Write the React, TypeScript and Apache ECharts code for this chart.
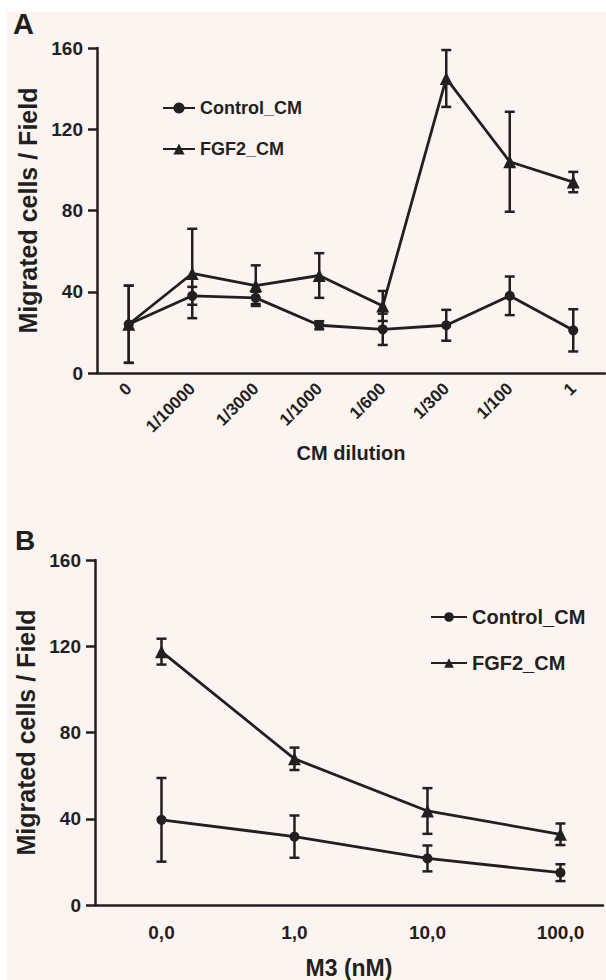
import React, { useEffect, useRef } from "react";
import * as echarts from "echarts";

// ---- Data ----
const categoriesA = ["0", "1/10000", "1/3000", "1/1000", "1/600", "1/300", "1/100", "1"];
const controlA = [24, 38, 37, 23.5, 21.5, 23.5, 38, 21];
const controlAErr = [19, 4.4, 3, 2, 7.7, 7.6, 9.5, 10.4];
const fgf2A = [24, 49, 43, 48, 33, 145, 104, 94];
const fgf2AErr = [19, 22, 10, 11, 7.4, 14, 24.6, 5];

const categoriesB = ["0,0", "1,0", "10,0", "100,0"];
const controlB = [39.5, 31.7, 21.6, 15];
const controlBErr = [19.4, 9.8, 6, 3.9];
const fgf2B = [117.5, 67.8, 43.6, 32.8];
const fgf2BErr = [6, 5.2, 10.6, 5];

const yTicks = [0, 40, 80, 120, 160];
const seriesNames = ["Control_CM", "FGF2_CM"];
const panelLetters = ["A", "B"];
const axisTitles = { yA: "Migrated cells / Field", xA: "CM dilution", yB: "Migrated cells / Field", xB: "M3 (nM)" };

const INK = "#231f20";
const BG = "#fcf4f1";
const SANS = "'Liberation Sans', Arial, sans-serif";

function errSeries(name: string, vals: number[], errs: number[], xi: number, yi: number) {
  return {
    type: "custom",
    name,
    xAxisIndex: xi,
    yAxisIndex: yi,
    silent: true,
    z: 3,
    encode: { x: 0, y: 1 },
    data: vals.map((v, i) => [i, v, errs[i]]),
    renderItem: (params: any, api: any) => {
      const x = api.value(0);
      const v = api.value(1);
      const e = api.value(2);
      const p1 = api.coord([x, v + e]);
      const p2 = api.coord([x, v - e]);
      const hw = 5;
      const style = { stroke: INK, lineWidth: 2.5, fill: "none" };
      return {
        type: "group",
        children: [
          { type: "line", shape: { x1: p1[0], y1: p1[1], x2: p2[0], y2: p2[1] }, style },
          { type: "line", shape: { x1: p1[0] - hw, y1: p1[1], x2: p1[0] + hw, y2: p1[1] }, style },
          { type: "line", shape: { x1: p2[0] - hw, y1: p2[1], x2: p2[0] + hw, y2: p2[1] }, style },
        ],
      };
    },
  };
}

function lineSeries(name: string, data: any[], symbol: string, size: number, xi: number, yi: number) {
  return {
    type: "line",
    name,
    xAxisIndex: xi,
    yAxisIndex: yi,
    data,
    symbol,
    symbolSize: size,
    showSymbol: true,
    z: 4,
    lineStyle: { color: INK, width: 2.8 },
    itemStyle: { color: INK, borderWidth: 0 },
  };
}

const yAxisCommon = {
  type: "value",
  min: 0,
  max: 160,
  interval: 40,
  splitLine: { show: false },
  axisLine: { show: true, onZero: false, lineStyle: { color: INK, width: 2.5 } },
  axisTick: { show: true, length: 9, lineStyle: { color: INK, width: 2.5 } },
  axisLabel: {
    color: INK,
    fontFamily: SANS,
    fontWeight: "bold",
    fontSize: 19,
    margin: 14,
    formatter: (v: number) => (yTicks.includes(v) ? String(v) : ""),
  },
  nameLocation: "middle",
  nameGap: 44,
  nameTextStyle: { color: INK, fontFamily: SANS, fontWeight: "bold", fontSize: 25 },
};

export default function App() {
  const ref = useRef<HTMLDivElement>(null);
  useEffect(() => {
    if (!ref.current) return;
    const chart = echarts.init(ref.current, null, { renderer: "svg" });
    const option: any = {
      animation: false,
      backgroundColor: "#ffffff",
      graphic: [
        { type: "rect", shape: { x: 7, y: 12, width: 599, height: 968 }, style: { fill: BG }, z: -10, silent: true },
        {
          type: "text",
          x: 13,
          y: 9,
          style: { text: panelLetters[0], fill: INK, font: `bold 29px ${SANS}` },
        },
        {
          type: "text",
          x: 15,
          y: 526,
          style: { text: panelLetters[1], fill: INK, font: `bold 28px ${SANS}` },
        },
      ],
      grid: [
        { left: 97, top: 48, width: 508, height: 325 },
        { left: 95, top: 560, width: 508, height: 346 },
      ],
      xAxis: [
        {
          type: "category",
          gridIndex: 0,
          data: categoriesA,
          boundaryGap: true,
          axisLine: { show: true, onZero: false, lineStyle: { color: INK, width: 2.5 } },
          axisTick: { show: false },
          axisLabel: {
            color: INK,
            fontFamily: SANS,
            fontWeight: "bold",
            fontSize: 17,
            rotate: 45,
            margin: 13,
            interval: 0,
          },
          name: axisTitles.xA,
          nameLocation: "middle",
          nameGap: 70,
          nameTextStyle: { color: INK, fontFamily: SANS, fontWeight: "bold", fontSize: 20 },
        },
        {
          type: "value",
          gridIndex: 1,
          min: -0.5,
          max: 3.32,
          splitLine: { show: false },
          axisLine: { show: true, onZero: false, lineStyle: { color: INK, width: 2.5 } },
          axisTick: { show: false },
          axisLabel: {
            color: INK,
            fontFamily: SANS,
            fontWeight: "bold",
            fontSize: 19,
            margin: 18,
            customValues: [0, 1, 2, 3],
            formatter: (v: number) => categoriesB[Math.round(v)] ?? "",
          },
          name: axisTitles.xB,
          nameLocation: "middle",
          nameGap: 51,
          nameTextStyle: { color: INK, fontFamily: SANS, fontWeight: "bold", fontSize: 23 },
        },
      ],
      yAxis: [
        { ...yAxisCommon, gridIndex: 0, name: axisTitles.yA },
        { ...yAxisCommon, gridIndex: 1, name: axisTitles.yB },
      ],
      legend: [
        {
          data: seriesNames,
          orient: "vertical",
          left: 157,
          top: 92,
          itemWidth: 32,
          itemHeight: 14,
          itemGap: 19,
          selectedMode: false,
          textStyle: { color: INK, fontFamily: SANS, fontWeight: "bold", fontSize: 18, lineHeight: 22 },
        },
        {
          data: seriesNames,
          orient: "vertical",
          left: 425,
          top: 600,
          itemWidth: 36,
          itemHeight: 12,
          itemGap: 22,
          selectedMode: false,
          textStyle: { color: INK, fontFamily: SANS, fontWeight: "bold", fontSize: 20, lineHeight: 24 },
        },
      ],
      series: [
        errSeries("errCA", controlA, controlAErr, 0, 0),
        errSeries("errFA", fgf2A, fgf2AErr, 0, 0),
        lineSeries(seriesNames[0], controlA, "circle", 10, 0, 0),
        lineSeries(seriesNames[1], fgf2A, "triangle", 13, 0, 0),
        errSeries("errCB", controlB, controlBErr, 1, 1),
        errSeries("errFB", fgf2B, fgf2BErr, 1, 1),
        lineSeries(seriesNames[0], controlB.map((v, i) => [i, v]), "circle", 10, 1, 1),
        lineSeries(seriesNames[1], fgf2B.map((v, i) => [i, v]), "triangle", 13, 1, 1),
      ],
    };
    chart.setOption(option);
    return () => chart.dispose();
  }, []);
  return (
    <div
      ref={ref}
      style={{ position: "absolute", left: 0, top: 0, width: 606, height: 980 }}
    />
  );
}
